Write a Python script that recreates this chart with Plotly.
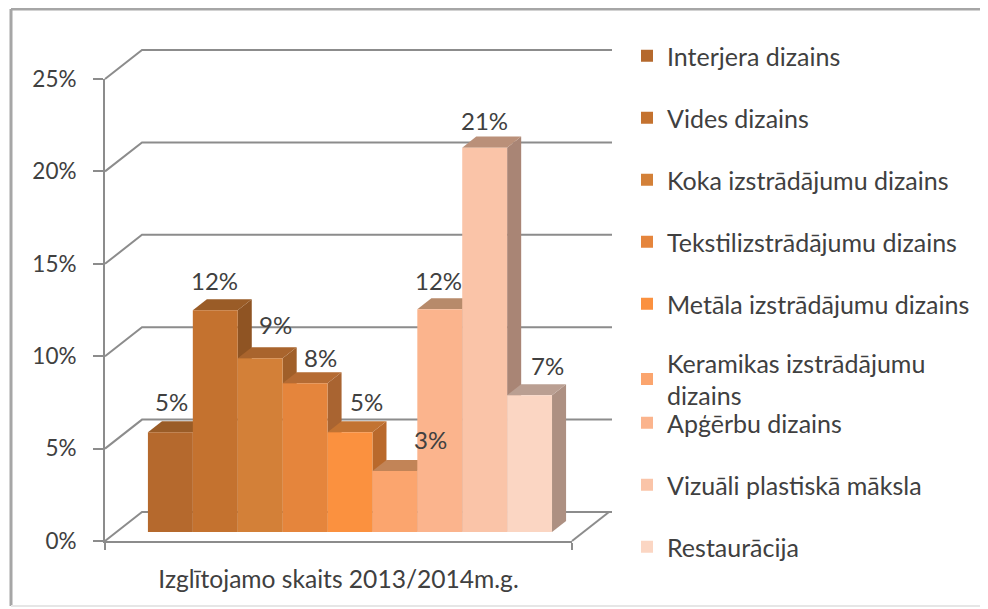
import plotly.graph_objects as go

# ---- data ----
categories = ["Interjera dizains", "Vides dizains", "Koka izstrādājumu dizains",
              "Tekstilizstrādājumu dizains", "Metāla izstrādājumu dizains",
              "Keramikas izstrādājumu<br>dizains", "Apģērbu dizains",
              "Vizuāli plastiskā māksla", "Restaurācija"]
values = [5.4, 12.0, 9.4, 8.05, 5.4, 3.3, 12.05, 20.8, 7.4]
y_ticks = [0, 5, 10, 15, 20, 25]
y_tick_labels = ["0%", "5%", "10%", "15%", "20%", "25%"]
x_label = "Izglītojamo skaits 2013/2014m.g."

# ---- style ----
front = ["#B5692D", "#C4722F", "#D38038", "#E5853C", "#FB913F", "#FBA56E", "#FBB48D", "#FAC4A8", "#FBD6C3"]
side = ["#8F5222", "#8F5423", "#A05F29", "#A96431", "#B9692C", "#B7794F", "#A9806A", "#A98575", "#AD9082"]
top = ["#9A5C27", "#9A5C27", "#A9642D", "#B56B33", "#C27332", "#C28457", "#B78A6A", "#BA9079", "#BA9F92"]
label_dx = [1, -1, 15, 15, 17, 36, -1, 0, 18]
label_dy = [31, 30, 34, 26, 31, 32, 29, 27, 30]
OFF = 8                           # the page's own margin
W, H = 988 - OFF, 609 - OFF
PX_X, PX_Y = 44.9, 18.48          # pixels per bar / per percent
X0_PX, Y0_PX = 105 - OFF, 541 - OFF  # front-left corner of the floor
FLOOR_W = 467 / PX_X              # width of the floor in bar units
WALL_DX, WALL_DY = 37 / PX_X, 29 / PX_Y      # shift of the full depth
GRID_EXTRA = 3 / PX_X
D0, D1 = 0.31, 0.69               # depth span of the bars
GAP = (FLOOR_W - len(values)) / 2
GREY = "#8C8C8C"
TEXT = "#404040"
FONT = "Lato"
FS = 24


def proj(x, v, d):
    return x + d * WALL_DX, v + d * WALL_DY


xr = [-X0_PX / PX_X, (W - X0_PX) / PX_X]
yr = [-(H - Y0_PX) / PX_Y, Y0_PX / PX_Y]

fig = go.Figure()


def line(pts):
    fig.add_trace(go.Scatter(x=[p[0] for p in pts], y=[p[1] for p in pts], mode="lines",
                             line=dict(color=GREY, width=2), showlegend=False, hoverinfo="skip"))


# walls
for t in y_ticks:
    a, b = proj(0, t, 0), proj(0, t, 1)
    end = (proj(FLOOR_W, t, 1)[0] + GRID_EXTRA, b[1])
    line([a, b, end])
line([proj(FLOOR_W, 0, 0), proj(FLOOR_W, 0, 1)])

# side and top faces, left to right
for i, v in enumerate(values):
    xl, xr_bar = GAP + i, GAP + i + 1
    s = [proj(xr_bar, 0, D0), proj(xr_bar, v, D0), proj(xr_bar, v, D1), proj(xr_bar, 0, D1), proj(xr_bar, 0, D0)]
    fig.add_trace(go.Scatter(x=[p[0] for p in s], y=[p[1] for p in s], fill="toself", fillcolor=side[i],
                             mode="none", showlegend=False, hoverinfo="skip"))
    t = [proj(xl, v, D0), proj(xr_bar, v, D0), proj(xr_bar, v, D1), proj(xl, v, D1), proj(xl, v, D0)]
    fig.add_trace(go.Scatter(x=[p[0] for p in t], y=[p[1] for p in t], fill="toself", fillcolor=top[i],
                             mode="none", showlegend=False, hoverinfo="skip"))

# front faces (with the legend)
legend_of = ["legend"] * 5 + ["legend2"] + ["legend3"] * 3
for i, (c, v) in enumerate(zip(categories, values)):
    cx, base = proj(GAP + i + 0.5, 0, D0)
    fig.add_trace(go.Bar(x=[cx], y=[v], base=[base], width=[1], name=c, marker=dict(color=front[i], line_width=0),
                         xaxis="x3", yaxis="y3", legend=legend_of[i], legendgroup=str(i),
                         showlegend=True, hoverinfo="skip"))

# data labels
for i, v in enumerate(values):
    cx, vy = proj(GAP + i + 0.5, v, D0)
    fig.add_annotation(x=cx, y=vy, xref="x3", yref="y3", text=f"{v:.0f}%", showarrow=False,
                       xshift=label_dx[i], yshift=label_dy[i], font=dict(family=FONT, size=FS, color=TEXT))

# trace that carries the visible axes
fig.add_trace(go.Scatter(x=[0.5], y=[0], xaxis="x2", yaxis="y2", mode="markers", marker=dict(opacity=0),
                         showlegend=False, hoverinfo="skip"))

hidden = dict(visible=False, fixedrange=True, automargin=False)
legend_common = dict(xanchor="left", yanchor="top",
                     bgcolor="rgba(0,0,0,0)", borderwidth=0,
                     font=dict(family=FONT, size=25, color=TEXT), tracegroupgap=26.5,
                     itemwidth=30, traceorder="grouped")
LX = (627 - OFF) / W
frame_dark = dict(type="line", xref="paper", yref="paper", line=dict(color="#A6A6A6", width=3), layer="below")
frame_light = dict(type="line", xref="paper", yref="paper", line=dict(color="#E6E6E6", width=2), layer="below")
FL, FR, FT, FB = (11 - OFF) / W, (986 - OFF) / W, 1 - (9 - OFF) / H, 1 - (606 - OFF) / H
fig.update_layout(
    template="none",
    width=W, height=H, margin=dict(l=0, r=0, t=0, b=0), paper_bgcolor="white", plot_bgcolor="rgba(0,0,0,0)",
    barmode="overlay",
    xaxis=dict(range=xr, domain=[0, 1], **hidden), yaxis=dict(range=yr, domain=[0, 1], **hidden),
    xaxis3=dict(range=xr, overlaying="x", **hidden), yaxis3=dict(range=yr, overlaying="y", **hidden),
    xaxis2=dict(domain=[X0_PX / W, (X0_PX + 467) / W], range=[0, 1], anchor="y2", showgrid=False, zeroline=False,
                automargin=False, showline=True, linecolor=GREY, linewidth=2,
                tickmode="array", tickvals=[0.5], ticktext=[x_label], ticks="", ticklabelstandoff=15,
                tickfont=dict(family=FONT, size=24.6, color=TEXT),
                minor=dict(tickmode="array", tickvals=[0, 1], ticks="outside", ticklen=7, tickcolor=GREY, tickwidth=2)),
    yaxis2=dict(domain=[(H - Y0_PX) / H, (H - Y0_PX + 25 * PX_Y) / H], range=[0, 25], anchor="x2", showgrid=False,
                automargin=False, zeroline=False, showline=True, linecolor=GREY, linewidth=2,
                tickmode="array", tickvals=y_ticks, ticktext=y_tick_labels, ticks="outside", ticklen=10, tickcolor=GREY,
                tickwidth=2, ticklabelstandoff=12, tickfont=dict(family=FONT, size=22.5, color=TEXT)),
    legend=dict(x=LX, y=1 - (33 - OFF) / H, **legend_common),
    legend2=dict(x=LX, y=1 - (340 - OFF) / H, **legend_common),
    legend3=dict(x=LX, y=1 - (400 - OFF) / H, **legend_common),
    showlegend=True,
    shapes=[dict(frame_dark, x0=FL, x1=FL, y0=FB, y1=FT), dict(frame_dark, x0=FL, x1=FR, y0=FT, y1=FT),
            dict(frame_light, x0=FR, x1=FR, y0=FB, y1=FT), dict(frame_light, x0=FL, x1=FR, y0=FB, y1=FB)],
)
fig.write_html("out.html")
